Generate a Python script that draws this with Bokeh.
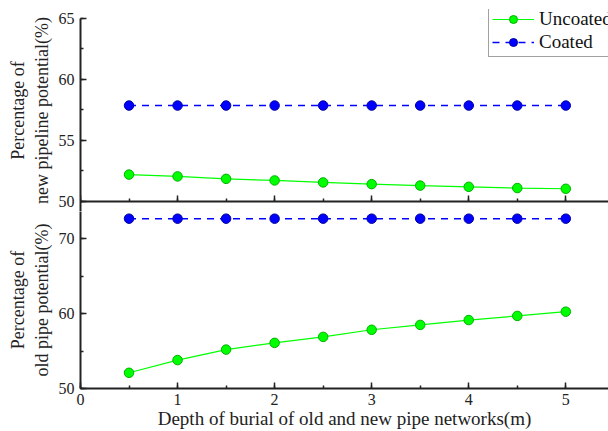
from bokeh.plotting import figure
from bokeh.layouts import column
from bokeh.models import Range1d, SingleIntervalTicker, Legend, LegendItem, LinearAxis
from bokeh.embed import file_html
from bokeh.resources import INLINE

# Burial depth of the pipe networks (m)
depth = [0.5, 1.0, 1.5, 2.0, 2.5, 3.0, 3.5, 4.0, 4.5, 5.0]

# New pipeline potential share (%)
new_uncoated = [52.2, 52.05, 51.85, 51.72, 51.56, 51.42, 51.3, 51.2, 51.1, 51.04]
new_coated = [57.85] * 10

# Old pipe potential share (%)
old_uncoated = [52.1, 53.8, 55.2, 56.1, 56.9, 57.85, 58.5, 59.15, 59.7, 60.27]
old_coated = [72.7] * 10

FONT = "Liberation Serif"
INK = "#222222"
GREEN, GREEN_EDGE = "#00FF00", "#00B000"
BLUE, BLUE_EDGE = "#0000FF", "#0000A0"
X_END = 5.44


def style_axis(ax):
    ax.axis_line_width = 2
    ax.axis_line_color = INK
    ax.major_tick_line_color = INK
    ax.minor_tick_line_color = INK
    ax.major_tick_line_width = 1.5
    ax.minor_tick_line_width = 1.5
    ax.major_tick_in = 6
    ax.major_tick_out = 0
    ax.minor_tick_in = 3
    ax.minor_tick_out = 0
    ax.major_label_text_font = FONT
    ax.major_label_text_font_size = "16px"
    ax.major_label_text_color = INK
    ax.axis_label_text_font = FONT
    ax.axis_label_text_font_size = "18px"
    ax.axis_label_text_font_style = "normal"
    ax.axis_label_text_color = INK


def base_figure(height, y_range, top, bottom):
    p = figure(width=608, height=height, output_backend="svg", toolbar_location=None,
               x_range=Range1d(0, X_END), y_range=y_range,
               min_border_left=80, min_border_right=0,
               min_border_top=top, min_border_bottom=bottom)
    p.grid.visible = False
    p.outline_line_color = None
    style_axis(p.yaxis[0])
    p.yaxis[0].major_label_standoff = 6
    p.yaxis[0].axis_label_standoff = 4
    return p


def draw_series(p, ys_unc, ys_coat):
    r1 = p.line(depth, ys_unc, line_color=GREEN, line_width=1.2)
    c1 = p.scatter(depth, ys_unc, size=9.5, fill_color=GREEN, line_color=GREEN_EDGE, line_width=1)
    r2 = p.line(depth, ys_coat, line_color=BLUE, line_width=1.5, line_dash="7 6")
    c2 = p.scatter(depth, ys_coat, size=9.5, fill_color=BLUE, line_color=BLUE_EDGE, line_width=1)
    return [r1, c1], [r2, c2]


# Upper panel: new pipeline (range runs a little past 50/65 so the end labels
# and the legend have room; the axis line stops at 65)
NEW_LO, NEW_HI = 49.18, 65.71
top = base_figure(211, Range1d(NEW_LO, NEW_HI), top=9, bottom=0)
top.xaxis.visible = False
top.yaxis[0].bounds = (NEW_LO, 65)
top.yaxis[0].ticker = SingleIntervalTicker(interval=5, num_minor_ticks=2)
top.yaxis[0].axis_label = "Percentage of\nnew pipeline potential(%)"

# Divider at 50: ticks only
divider = LinearAxis(fixed_location=50)
style_axis(divider)
divider.ticker = SingleIntervalTicker(interval=1, num_minor_ticks=2)
divider.major_label_text_color = None
top.add_layout(divider, "below")

unc, coat = draw_series(top, new_uncoated, new_coated)

legend = Legend(items=[LegendItem(label="Uncoated", renderers=unc),
                       LegendItem(label="Coated", renderers=coat)],
                location=(408, 154), orientation="vertical")
legend.label_text_font = FONT
legend.label_text_font_size = "19px"
legend.label_text_color = "#111111"
legend.glyph_width = 42
legend.glyph_height = 20
legend.label_height = 20
legend.label_standoff = 5
legend.padding = 3
legend.spacing = 1
legend.margin = 0
legend.border_line_color = "#444444"
legend.border_line_width = 1.5
legend.background_fill_color = "white"
legend.background_fill_alpha = 1
top.add_layout(legend)

# Lower panel: old pipe
bot = base_figure(220, Range1d(50, 73.66), top=0, bottom=43)
bot.yaxis[0].ticker = SingleIntervalTicker(interval=10, num_minor_ticks=2)
bot.yaxis[0].axis_label = "Percentage of\nold pipe potential(%)"
ax_x = bot.xaxis[0]
style_axis(ax_x)
ax_x.ticker = SingleIntervalTicker(interval=1, num_minor_ticks=2)
ax_x.axis_label = "Depth of burial of old and new pipe networks(m)"
ax_x.axis_label_text_font_size = "19px"
ax_x.major_label_standoff = 5
ax_x.axis_label_standoff = 0
draw_series(bot, old_uncoated, old_coated)

layout = column(top, bot, spacing=0)
open("out.html", "w").write(file_html(layout, INLINE))
